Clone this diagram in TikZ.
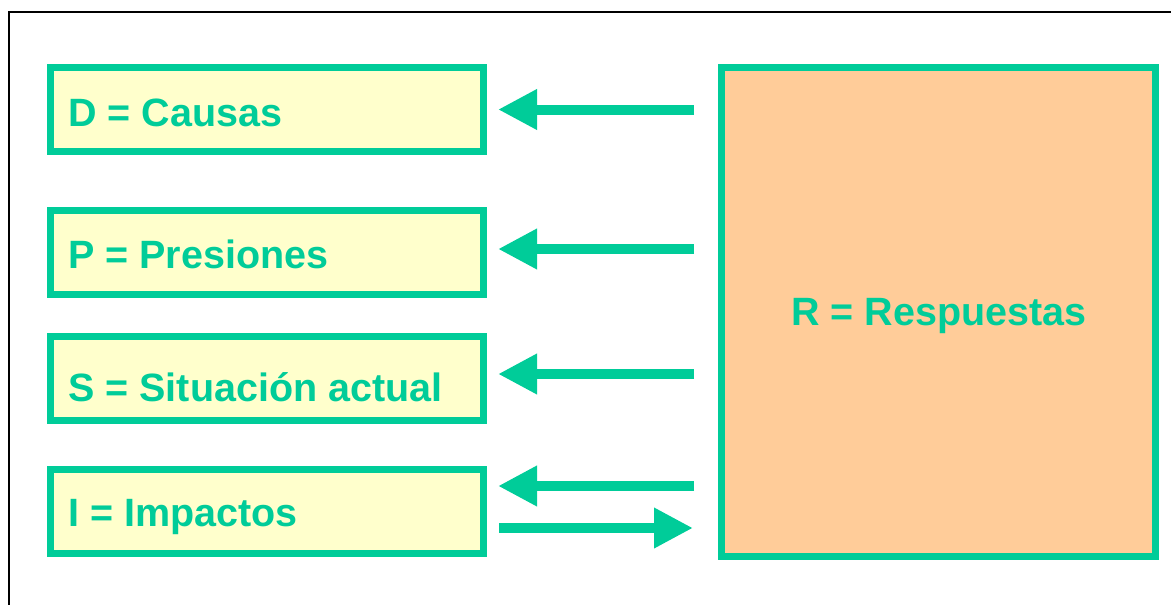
\documentclass[tikz,border=0pt]{standalone}
\usepackage{fontspec}
\setmainfont{Liberation Sans}
\usetikzlibrary{arrows.meta}
\definecolor{dgreen}{RGB}{0,204,153}
\definecolor{dyellow}{RGB}{255,255,204}
\definecolor{dorange}{RGB}{255,204,153}
\tikzset{
  sbox/.style={draw=dgreen, line width=7pt, fill=dyellow, minimum width=433pt, minimum height=84pt, inner sep=0pt},
  rbox/.style={draw=dgreen, line width=7pt, fill=dorange, minimum width=434pt, minimum height=489pt, inner sep=0pt},
  lbl/.style={anchor=base west, inner sep=0pt, text=dgreen, font=\fontsize{39.5}{47}\selectfont\bfseries},
  arr/.style={draw=dgreen, line width=10pt, line cap=butt, -{Triangle[length=39pt,width=38pt]}}
}
\begin{document}
\begin{tikzpicture}[x=1pt,y=-1pt]
\useasboundingbox (0,0) rectangle (1171,605);
% frame
\coordinate (f1) at (9,606);
\coordinate (f2) at (9,12);
\coordinate (f3) at (1172,12);
\draw[line width=2pt] (f1) -- (f2) -- (f3);
% boxes
\node[sbox] (D) at (267,109.5) {};
\node[sbox] (P) at (267,252.5) {};
\node[sbox] (S) at (267,378.5) {};
\node[sbox] (I) at (267,511) {};
\node[rbox] (R) at (938.5,312) {};
% labels
\node[lbl] (tD) at (68,126) {D = Causas};
\node[lbl] (tP) at (68,268) {P = Presiones};
\node[lbl] (tS) at (68,401) {S = Situación actual};
\node[lbl] (tI) at (68,526) {I = Impactos};
\node[lbl] (tR) at (791,325) {R = Respuestas};
% arrows
\draw[arr] ([xshift=-24pt]R.west |- D.east) -- ([xshift=11pt]D.east);
\draw[arr] ([xshift=-24pt,yshift=3.5pt]R.west |- P.east) -- ([xshift=11pt,yshift=3.5pt]P.east);
\draw[arr] ([xshift=-24pt,yshift=4.5pt]R.west |- S.east) -- ([xshift=11pt,yshift=4.5pt]S.east);
\draw[arr] ([xshift=-24pt,yshift=25pt]R.west |- I.east) -- ([xshift=11pt,yshift=25pt]I.east);
\draw[arr] ([xshift=12pt,yshift=-17pt]I.east) -- ([xshift=-25pt,yshift=-17pt]R.west |- I.east);
\end{tikzpicture}
\end{document}
